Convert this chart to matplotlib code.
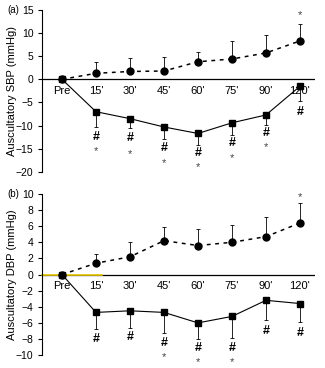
import matplotlib.pyplot as plt

plt.rcParams['font.family'] = ['Liberation Sans', 'DejaVu Sans']

times = ["Pre", "15'", "30'", "45'", "60'", "75'", "90'", "120'"]

# panel (a) - SBP
sbp_up = [0, 1.3, 1.7, 1.8, 3.8, 4.4, 5.7, 8.3]
sbp_up_err = [0, 2.5, 2.9, 3.0, 2.1, 3.9, 3.9, 3.7]
sbp_down = [0, -7.0, -8.5, -10.3, -11.7, -9.4, -7.7, -1.5]
sbp_down_err = [0, 3.3, 2.1, 2.5, 2.5, 2.6, 2.1, 3.2]
sbp_hash = [None, -12.4, -12.7, -14.8, -15.9, -13.8, -11.5, -7.0]
sbp_star_down = [None, -15.5, -16.1, -18.0, -19.0, -17.1, -14.6, None]
sbp_star_up = [None, None, None, None, None, None, None, 13.8]

# panel (b) - DBP
dbp_up = [0, 1.4, 2.2, 4.2, 3.6, 4.0, 4.7, 6.4]
dbp_up_err = [0, 1.2, 1.8, 1.7, 2.1, 2.1, 2.5, 2.5]
dbp_down = [0, -4.7, -4.5, -4.7, -6.0, -5.2, -3.2, -3.6]
dbp_down_err = [0, 2.1, 2.1, 2.5, 2.0, 2.7, 2.4, 2.3]
dbp_hash = [None, -8.0, -7.7, -8.5, -9.1, -9.1, -7.0, -7.3]
dbp_star_down = [None, None, None, -10.3, -10.9, -10.9, None, None]
dbp_star_up = [None, None, None, None, None, None, None, 9.6]

fig = plt.figure(figsize=(3.25, 3.68), dpi=100)
ax_a = fig.add_axes([0.129, 0.533, 0.84, 0.44])
ax_b = fig.add_axes([0.129, 0.035, 0.84, 0.438])


def draw_panel(ax, up, up_err, down, down_err, hashes, star_down, star_up,
               ylim, yticks, ylabel, letter):
    x = list(range(len(times)))
    ax.axhline(0, color='black', lw=0.9, zorder=1)
    # error bars (one-sided)
    ax.errorbar(x, up, yerr=[[0] * len(x), up_err], fmt='none', ecolor='black',
                elinewidth=0.6, capsize=1.5, capthick=0.6)
    ax.errorbar(x, down, yerr=[down_err, [0] * len(x)], fmt='none', ecolor='black',
                elinewidth=0.6, capsize=1.5, capthick=0.6)
    ax.plot(x, up, color='black', lw=1.1, ls=(0, (2.5, 3)), marker='o', ms=5, zorder=3)
    ax.plot(x, down, color='black', lw=0.8, ls='-', marker='s', ms=4, zorder=3)
    for i in x:
        if hashes[i] is not None:
            ax.text(i, hashes[i], '#', ha='center', va='center', fontsize=9, fontweight='bold')
        if star_down[i] is not None:
            ax.text(i, star_down[i], '*', ha='center', va='center', fontsize=8, color='#444444')
        if star_up[i] is not None:
            ax.text(i, star_up[i], '*', ha='center', va='center', fontsize=8, color='#444444')
        ax.annotate(times[i], (i, 0), xytext=(0, -4.5), textcoords='offset points',
                    ha='center', va='top', fontsize=8)
    ax.set_xlim(-0.59, 7.44)
    ax.set_ylim(*ylim)
    ax.set_yticks(yticks)
    ax.set_xticks([])
    for s in ['top', 'right', 'bottom']:
        ax.spines[s].set_visible(False)
    ax.spines['left'].set_linewidth(0.8)
    ax.tick_params(axis='y', direction='out', length=3, width=0.8, labelsize=7.5, pad=3)
    ax.set_ylabel(ylabel, fontsize=8)
    ax.yaxis.set_label_coords(-0.092, 0.5)
    ax.text(-0.125, 1.0, letter, transform=ax.transAxes, fontsize=7, va='center')


draw_panel(ax_a, sbp_up, sbp_up_err, sbp_down, sbp_down_err, sbp_hash,
           sbp_star_down, sbp_star_up, (-20, 15), list(range(-20, 16, 5)),
           'Auscultatory SBP (mmHg)', '(a)')
draw_panel(ax_b, dbp_up, dbp_up_err, dbp_down, dbp_down_err, dbp_hash,
           dbp_star_down, dbp_star_up, (-10, 10), list(range(-10, 11, 2)),
           'Auscultatory DBP (mmHg)', '(b)')
ax_b.plot([-0.6, 1.18], [0, 0], color='#e8c800', lw=1.2, zorder=2, clip_on=False)

fig.savefig('out.png', dpi=100)
